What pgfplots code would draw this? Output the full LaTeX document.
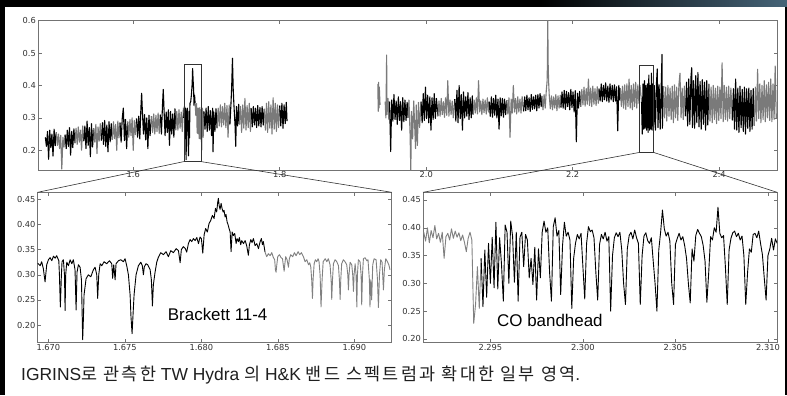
\documentclass[border=0pt]{standalone}
\usepackage{pgfplots}
\pgfplotsset{compat=1.18}
\usepackage{fontspec}
\setmainfont{Liberation Sans}
\newfontfamily\dv{DejaVu Sans}
\newfontfamily\kr{Noto Sans CJK KR}[LetterSpace=13]
\pgfplotsset{
 base/.style={
  scale only axis, anchor=south west, no markers,
  axis line style={draw=black!55, line width=0.6bp},
  tick style={draw=black!55, line width=0.5bp},
  major tick length=3.5bp,
  tick pos=both, tick align=inside,
  scaled ticks=false, clip=true,
  /pgf/number format/assume math mode=true,
  tick label style={font=\dv\fontsize{8.3}{9}\selectfont, text=black!80},
  xticklabel style={inner sep=1.5bp},
  yticklabel style={inner sep=2bp},
 },
 tb/.style={black, line width=1.1bp, line join=round},
 tg/.style={black!52, line width=1.1bp, line join=round},
 bb/.style={black, line width=0.9bp, line join=round},
 bg/.style={black!50, line width=0.9bp, line join=round},
}
\begin{document}
\begin{tikzpicture}[x=1bp,y=1bp]
\useasboundingbox (0,0) rectangle (787,395);
\fill[black] (0,0) rectangle (787,395);
\shade[left color=black, right color={rgb,255:red,70;green,100;blue,120}] (540,388) rectangle (787,395);
\fill[white] (5,0) rectangle (785,388);

% ================= TOP PANEL =================
\begin{axis}[base, name=top, at={(38bp,225bp)}, width=739bp, height=149.3bp,
  xmin=1.47, xmax=2.479, ymin=0.139, ymax=0.6,
  xtick={1.6,1.8,2.0,2.2,2.4}, ytick={0.2,0.3,0.4,0.5,0.6},
  xticklabel style={/pgf/number format/.cd,fixed,fixed zerofill,precision=1},
  yticklabel style={/pgf/number format/.cd,fixed,fixed zerofill,precision=1}]
% H band
\addplot[tb] coordinates {(1.4800,0.240)(1.4815,0.212)(1.4830,0.258)(1.4845,0.172)(1.4860,0.262)(1.4875,0.208)(1.4890,0.250)(1.4905,0.182)(1.4920,0.265)(1.4935,0.214)(1.4950,0.255)};
\addplot[tg] coordinates {(1.4950,0.255)(1.4965,0.215)(1.4980,0.250)(1.4995,0.205)(1.5010,0.246)(1.5025,0.142)(1.5040,0.240)(1.5055,0.210)(1.5070,0.248)};
\addplot[tb] coordinates {(1.5070,0.248)(1.5085,0.205)(1.5100,0.262)(1.5115,0.212)(1.5130,0.270)(1.5145,0.185)(1.5160,0.258)(1.5175,0.208)(1.5190,0.266)(1.5205,0.222)};
\addplot[tg] coordinates {(1.5205,0.222)(1.5220,0.268)(1.5235,0.218)(1.5250,0.272)(1.5265,0.225)(1.5280,0.262)(1.5295,0.200)(1.5310,0.275)(1.5325,0.228)};
\addplot[tb] coordinates {(1.5325,0.228)(1.5340,0.275)(1.5355,0.205)(1.5370,0.290)(1.5385,0.215)(1.5400,0.270)(1.5415,0.180)(1.5430,0.282)(1.5445,0.210)(1.5460,0.268)};
\addplot[tg] coordinates {(1.5460,0.268)(1.5475,0.225)(1.5490,0.280)(1.5505,0.190)(1.5520,0.272)(1.5535,0.228)(1.5550,0.282)(1.5565,0.230)};
\addplot[tb] coordinates {(1.5565,0.230)(1.5580,0.285)(1.5595,0.218)(1.5610,0.292)(1.5625,0.212)(1.5640,0.278)(1.5655,0.195)(1.5670,0.288)(1.5685,0.226)(1.5700,0.282)(1.5715,0.232)};
\addplot[tg] coordinates {(1.5715,0.232)(1.5730,0.288)(1.5745,0.236)(1.5760,0.280)(1.5775,0.200)(1.5790,0.290)(1.5805,0.238)(1.5820,0.285)};
\addplot[tb] coordinates {(1.5820,0.285)(1.5835,0.225)(1.5850,0.298)(1.5865,0.330)(1.5880,0.230)(1.5895,0.295)(1.5910,0.205)(1.5925,0.288)};
\addplot[tg] coordinates {(1.5925,0.288)(1.5940,0.240)(1.5955,0.295)(1.5970,0.245)(1.5985,0.300)(1.6000,0.200)(1.6015,0.292)(1.6030,0.248)(1.6045,0.298)};
\addplot[tb] coordinates {(1.6045,0.298)(1.6060,0.240)(1.6075,0.305)(1.6090,0.235)(1.6105,0.330)(1.6115,0.376)(1.6125,0.320)(1.6140,0.250)(1.6155,0.310)(1.6170,0.232)(1.6185,0.300)(1.6200,0.205)(1.6215,0.308)(1.6230,0.245)(1.6250,0.305)};
\addplot[tg] coordinates {(1.6250,0.305)(1.6265,0.255)(1.6280,0.312)(1.6295,0.250)(1.6310,0.308)(1.6325,0.258)(1.6340,0.315)(1.6355,0.252)(1.6370,0.310)};
\addplot[tb] coordinates {(1.6370,0.310)(1.6385,0.250)(1.6400,0.340)(1.6410,0.388)(1.6420,0.330)(1.6435,0.245)(1.6450,0.318)(1.6465,0.255)(1.6480,0.325)(1.6495,0.215)(1.6510,0.320)(1.6525,0.250)(1.6540,0.312)(1.6555,0.240)(1.6570,0.328)(1.6580,0.262)};
\addplot[tg] coordinates {(1.6580,0.262)(1.6595,0.320)(1.6610,0.262)(1.6625,0.325)(1.6640,0.268)(1.6655,0.318)(1.6670,0.258)(1.6685,0.330)(1.6690,0.300)};
\addplot[tb] coordinates {(1.6690,0.300)(1.6700,0.335)(1.6708,0.236)(1.6715,0.330)(1.6722,0.171)(1.6730,0.315)(1.6740,0.330)(1.6755,0.183)(1.6765,0.320)(1.6768,0.238)(1.6775,0.345)(1.6785,0.350)(1.6795,0.372)(1.6805,0.405)(1.6811,0.452)(1.6817,0.420)(1.6825,0.385)(1.6830,0.339)(1.6838,0.370)(1.6845,0.345)};
\addplot[tg] coordinates {(1.6845,0.345)(1.6855,0.307)(1.6865,0.344)(1.6873,0.253)(1.6880,0.330)(1.6885,0.251)(1.6895,0.330)(1.6902,0.236)(1.6910,0.332)(1.6916,0.235)(1.6925,0.325)(1.6935,0.200)(1.6945,0.330)(1.6955,0.240)(1.6965,0.320)};
\addplot[tb] coordinates {(1.6965,0.320)(1.6980,0.265)(1.6995,0.330)(1.7010,0.258)(1.7025,0.335)(1.7040,0.262)(1.7055,0.322)(1.7070,0.245)(1.7085,0.330)(1.7090,0.195)(1.7100,0.318)(1.7115,0.258)(1.7130,0.328)(1.7145,0.268)};
\addplot[tg] coordinates {(1.7145,0.268)(1.7160,0.330)(1.7175,0.275)(1.7190,0.340)(1.7205,0.272)(1.7220,0.335)(1.7235,0.278)(1.7250,0.345)(1.7265,0.270)(1.7280,0.338)(1.7295,0.240)(1.7310,0.340)(1.7320,0.280)};
\addplot[tb] coordinates {(1.7320,0.280)(1.7335,0.345)(1.7345,0.400)(1.7355,0.484)(1.7365,0.390)(1.7375,0.340)(1.7390,0.278)(1.7400,0.212)(1.7410,0.335)(1.7425,0.275)(1.7440,0.342)(1.7450,0.280)};
\addplot[tg] coordinates {(1.7450,0.280)(1.7465,0.335)(1.7480,0.255)(1.7495,0.340)(1.7510,0.268)(1.7525,0.360)(1.7540,0.262)(1.7555,0.338)(1.7570,0.270)(1.7585,0.345)(1.7600,0.258)(1.7610,0.330)};
\addplot[tb] coordinates {(1.7610,0.330)(1.7625,0.272)(1.7640,0.335)(1.7655,0.278)(1.7670,0.330)(1.7685,0.270)(1.7700,0.338)(1.7715,0.275)(1.7730,0.332)(1.7745,0.272)(1.7760,0.335)(1.7775,0.278)(1.7790,0.328)};
\addplot[tg] coordinates {(1.7790,0.328)(1.7805,0.262)(1.7820,0.345)(1.7835,0.255)(1.7850,0.350)(1.7865,0.268)(1.7880,0.340)(1.7895,0.250)(1.7910,0.362)(1.7925,0.265)(1.7940,0.345)(1.7955,0.258)(1.7970,0.340)(1.7985,0.270)(1.8000,0.338)};
\addplot[tb] coordinates {(1.8000,0.338)(1.8015,0.275)(1.8030,0.345)(1.8045,0.268)(1.8060,0.340)(1.8075,0.282)(1.8090,0.348)(1.8100,0.290)};
% K band
\addplot[tg] coordinates {(1.9340,0.405)(1.9345,0.320)(1.9350,0.410)(1.9355,0.330)(1.9360,0.395)(1.9370,0.340)};
\addplot[tg] coordinates {(1.9440,0.350)(1.9450,0.300)(1.9460,0.494)(1.9465,0.310)(1.9480,0.360)(1.9490,0.295)(1.9500,0.350)};
\addplot[tb] coordinates {(1.9500,0.350)(1.9515,0.196)(1.9530,0.355)(1.9545,0.290)(1.9560,0.372)(1.9575,0.295)(1.9590,0.352)(1.9605,0.280)(1.9620,0.365)(1.9635,0.292)(1.9650,0.350)(1.9665,0.262)(1.9680,0.362)(1.9695,0.288)(1.9710,0.355)(1.9725,0.292)(1.9740,0.348)(1.9750,0.300)};
\addplot[tg] coordinates {(1.9750,0.300)(1.9765,0.355)(1.9780,0.250)(1.9790,0.138)(1.9800,0.320)(1.9815,0.235)(1.9830,0.352)(1.9845,0.262)(1.9855,0.205)(1.9865,0.340)(1.9880,0.215)(1.9895,0.348)(1.9910,0.270)(1.9930,0.350)};
\addplot[tb] coordinates {(1.9930,0.350)(1.9945,0.285)(1.9960,0.375)(1.9975,0.292)(1.9990,0.395)(2.0005,0.298)(2.0020,0.370)(2.0035,0.285)(2.0050,0.365)(2.0065,0.262)(2.0080,0.362)(2.0095,0.295)(2.0110,0.375)(2.0125,0.298)(2.0140,0.360)(2.0160,0.305)};
\addplot[tg] coordinates {(2.0160,0.305)(2.0175,0.352)(2.0190,0.305)(2.0205,0.360)(2.0220,0.310)(2.0235,0.350)(2.0250,0.302)(2.0265,0.362)(2.0280,0.308)(2.0295,0.415)(2.0310,0.305)(2.0325,0.355)(2.0340,0.310)(2.0355,0.352)(2.0370,0.300)(2.0390,0.358)};
\addplot[tb] coordinates {(2.0390,0.358)(2.0405,0.290)(2.0420,0.385)(2.0435,0.285)(2.0450,0.400)(2.0465,0.298)(2.0480,0.372)(2.0495,0.262)(2.0510,0.380)(2.0525,0.300)(2.0540,0.365)(2.0555,0.305)(2.0570,0.378)(2.0585,0.295)(2.0600,0.362)(2.0615,0.300)(2.0630,0.368)(2.0640,0.310)};
\addplot[tg] coordinates {(2.0640,0.310)(2.0655,0.355)(2.0670,0.315)(2.0685,0.362)(2.0700,0.312)(2.0715,0.415)(2.0730,0.318)(2.0745,0.352)(2.0760,0.310)(2.0775,0.358)(2.0790,0.316)(2.0805,0.355)(2.0820,0.312)(2.0835,0.362)(2.0850,0.318)(2.0860,0.350)};
\addplot[tb] coordinates {(2.0860,0.350)(2.0875,0.305)(2.0890,0.365)(2.0905,0.302)(2.0920,0.360)(2.0935,0.308)(2.0950,0.370)(2.0965,0.300)(2.0980,0.358)(2.0995,0.265)(2.1010,0.362)(2.1025,0.306)(2.1040,0.360)(2.1055,0.302)(2.1070,0.358)(2.1085,0.310)(2.1100,0.355)};
\addplot[tg] coordinates {(2.1100,0.355)(2.1115,0.312)(2.1130,0.362)(2.1145,0.240)(2.1160,0.358)(2.1175,0.315)(2.1190,0.400)(2.1205,0.318)(2.1220,0.360)(2.1235,0.312)(2.1250,0.365)(2.1265,0.318)(2.1280,0.358)(2.1295,0.315)(2.1310,0.366)(2.1330,0.320)};
\addplot[tb] coordinates {(2.1330,0.320)(2.1345,0.365)(2.1360,0.322)(2.1375,0.370)(2.1390,0.325)(2.1405,0.362)(2.1420,0.320)(2.1435,0.372)(2.1450,0.326)(2.1465,0.365)(2.1480,0.328)(2.1495,0.370)(2.1510,0.322)(2.1525,0.372)(2.1540,0.330)(2.1555,0.375)(2.1570,0.335)(2.1580,0.368)};
\addplot[tg] coordinates {(2.1580,0.368)(2.1595,0.325)(2.1610,0.372)(2.1625,0.330)(2.1640,0.385)(2.1650,0.410)(2.1655,0.460)(2.1660,0.610)(2.1665,0.470)(2.1672,0.410)(2.1680,0.370)(2.1695,0.328)(2.1710,0.368)(2.1725,0.325)(2.1740,0.365)(2.1755,0.330)(2.1770,0.372)(2.1785,0.322)(2.1800,0.368)(2.1815,0.330)(2.1830,0.370)(2.1840,0.332)};
\addplot[tb] coordinates {(2.1840,0.332)(2.1855,0.380)(2.1870,0.330)(2.1885,0.385)(2.1900,0.326)(2.1915,0.382)(2.1930,0.335)(2.1945,0.378)(2.1960,0.325)(2.1975,0.388)(2.1990,0.332)(2.2005,0.380)(2.2020,0.318)(2.2035,0.384)(2.2050,0.226)(2.2065,0.376)(2.2080,0.330)(2.2095,0.382)(2.2110,0.335)};
\addplot[tg] coordinates {(2.2110,0.335)(2.2125,0.388)(2.2140,0.340)(2.2155,0.395)(2.2170,0.336)(2.2185,0.390)(2.2200,0.342)(2.2215,0.420)(2.2230,0.338)(2.2245,0.392)(2.2260,0.335)(2.2275,0.398)(2.2290,0.342)(2.2305,0.390)(2.2320,0.338)(2.2335,0.396)(2.2350,0.345)(2.2360,0.390)};
\addplot[tb] coordinates {(2.2360,0.390)(2.2375,0.352)(2.2390,0.405)(2.2405,0.350)(2.2420,0.400)(2.2435,0.356)(2.2450,0.408)(2.2465,0.352)(2.2480,0.398)(2.2495,0.348)(2.2510,0.405)(2.2525,0.355)(2.2540,0.400)(2.2555,0.350)(2.2570,0.402)(2.2585,0.352)(2.2600,0.396)(2.2615,0.260)(2.2630,0.400)(2.2645,0.355)(2.2650,0.392)};
\addplot[tg] coordinates {(2.2650,0.392)(2.2665,0.335)(2.2680,0.398)(2.2695,0.330)(2.2710,0.402)(2.2725,0.326)(2.2740,0.405)(2.2755,0.335)(2.2770,0.420)(2.2785,0.330)(2.2800,0.400)(2.2815,0.325)(2.2830,0.405)(2.2845,0.335)(2.2860,0.410)(2.2875,0.330)(2.2890,0.402)(2.2905,0.345)(2.2920,0.400)(2.2940,0.350)};
\addplot[tb] coordinates {(2.2940,0.350)(2.2950,0.250)(2.2960,0.405)(2.2970,0.265)(2.2980,0.415)(2.2990,0.268)(2.3000,0.400)(2.3010,0.262)(2.3020,0.405)(2.3030,0.255)(2.3040,0.432)(2.3050,0.262)(2.3060,0.400)(2.3070,0.265)(2.3075,0.438)(2.3085,0.262)(2.3095,0.405)(2.3105,0.270)(2.3115,0.400)(2.3130,0.262)(2.3145,0.410)(2.3155,0.451)(2.3165,0.270)(2.3180,0.402)(2.3195,0.265)(2.3210,0.408)(2.3220,0.496)(2.3225,0.268)(2.3240,0.398)};
\addplot[tg] coordinates {(2.3240,0.398)(2.3255,0.300)(2.3270,0.395)(2.3285,0.290)(2.3300,0.400)(2.3315,0.305)(2.3330,0.392)(2.3345,0.295)(2.3360,0.398)(2.3375,0.285)(2.3390,0.402)(2.3405,0.300)(2.3420,0.395)(2.3435,0.292)(2.3450,0.400)(2.3465,0.438)(2.3480,0.300)(2.3495,0.392)(2.3510,0.295)(2.3525,0.398)(2.3540,0.305)};
\addplot[tb] coordinates {(2.3540,0.305)(2.3555,0.410)(2.3570,0.275)(2.3585,0.420)(2.3600,0.280)(2.3615,0.425)(2.3625,0.455)(2.3635,0.270)(2.3650,0.415)(2.3665,0.268)(2.3680,0.430)(2.3695,0.285)(2.3710,0.440)(2.3725,0.272)(2.3740,0.412)(2.3755,0.265)(2.3770,0.418)(2.3785,0.280)(2.3800,0.410)(2.3815,0.262)(2.3830,0.415)(2.3845,0.278)(2.3860,0.405)};
\addplot[tg] coordinates {(2.3860,0.405)(2.3875,0.290)(2.3890,0.395)(2.3905,0.285)(2.3920,0.400)(2.3935,0.295)(2.3950,0.392)(2.3965,0.282)(2.3980,0.398)(2.3995,0.292)(2.4010,0.395)(2.4025,0.298)(2.4040,0.470)(2.4055,0.288)(2.4070,0.400)(2.4085,0.295)(2.4100,0.395)(2.4115,0.290)(2.4130,0.398)(2.4145,0.298)(2.4160,0.392)(2.4180,0.292)};
\addplot[tb] coordinates {(2.4180,0.292)(2.4195,0.390)(2.4210,0.265)(2.4225,0.420)(2.4240,0.262)(2.4255,0.392)(2.4270,0.255)(2.4285,0.398)(2.4300,0.270)(2.4315,0.388)(2.4330,0.258)(2.4345,0.395)(2.4360,0.250)(2.4375,0.390)(2.4390,0.268)(2.4405,0.392)(2.4420,0.258)(2.4435,0.385)(2.4450,0.265)(2.4465,0.390)(2.4480,0.275)};
\addplot[tg] coordinates {(2.4480,0.275)(2.4495,0.395)(2.4510,0.290)(2.4525,0.450)(2.4540,0.298)(2.4555,0.405)(2.4570,0.285)(2.4585,0.400)(2.4600,0.295)(2.4615,0.415)(2.4630,0.288)(2.4645,0.402)(2.4660,0.300)(2.4675,0.410)(2.4690,0.292)(2.4705,0.420)(2.4720,0.288)(2.4735,0.405)(2.4750,0.295)(2.4765,0.460)(2.4780,0.300)};
\draw[black!80, line width=0.6bp] (axis cs:1.6693,0.165) rectangle (axis cs:1.69244,0.464);
\draw[black!80, line width=0.6bp] (axis cs:2.29136,0.1933) rectangle (axis cs:2.31049,0.4638);
\coordinate (A1) at (axis cs:1.6693,0.165);
\coordinate (A2) at (axis cs:1.69244,0.165);
\coordinate (B1) at (axis cs:2.29136,0.1933);
\coordinate (B2) at (axis cs:2.31049,0.1933);
\end{axis}

% ================= BOTTOM LEFT =================
\begin{axis}[base, name=bl, at={(37.7bp,52.3bp)}, width=354bp, height=150.4bp,
  xmin=1.6693, xmax=1.69244, ymin=0.165, ymax=0.464,
  xtick={1.670,1.675,1.680,1.685,1.690}, ytick={0.20,0.25,0.30,0.35,0.40,0.45},
  xticklabel style={/pgf/number format/.cd,fixed,fixed zerofill,precision=3},
  yticklabel style={/pgf/number format/.cd,fixed,fixed zerofill,precision=2}]
\addplot[bb] coordinates {(1.66930,0.323)(1.66946,0.318)(1.66956,0.326)(1.66967,0.312)(1.66978,0.286)(1.66989,0.320)(1.67000,0.330)(1.67011,0.334)(1.67022,0.328)(1.67033,0.337)(1.67044,0.333)(1.67054,0.338)(1.67068,0.328)(1.67072,0.300)(1.67078,0.236)(1.67085,0.300)(1.67089,0.326)(1.67098,0.330)(1.67105,0.300)(1.67109,0.229)(1.67113,0.300)(1.67120,0.325)(1.67131,0.318)(1.67142,0.330)(1.67153,0.322)(1.67163,0.330)(1.67174,0.310)(1.67181,0.230)(1.67187,0.305)(1.67196,0.320)(1.67207,0.315)(1.67216,0.290)(1.67220,0.230)(1.67224,0.171)(1.67229,0.215)(1.67233,0.260)(1.67246,0.292)(1.67261,0.300)(1.67277,0.296)(1.67294,0.310)(1.67305,0.315)(1.67316,0.300)(1.67322,0.253)(1.67329,0.300)(1.67338,0.322)(1.67349,0.318)(1.67364,0.326)(1.67381,0.322)(1.67399,0.328)(1.67414,0.322)(1.67420,0.293)(1.67427,0.320)(1.67436,0.290)(1.67442,0.322)(1.67458,0.328)(1.67473,0.330)(1.67490,0.326)(1.67501,0.332)(1.67512,0.318)(1.67523,0.300)(1.67534,0.260)(1.67540,0.215)(1.67547,0.183)(1.67553,0.220)(1.67560,0.260)(1.67573,0.300)(1.67588,0.318)(1.67604,0.325)(1.67614,0.318)(1.67621,0.300)(1.67627,0.316)(1.67638,0.322)(1.67649,0.320)(1.67665,0.310)(1.67673,0.290)(1.67680,0.238)(1.67686,0.280)(1.67697,0.305)(1.67708,0.325)(1.67719,0.335)(1.67734,0.344)(1.67752,0.340)(1.67769,0.346)(1.67784,0.336)(1.67800,0.348)(1.67817,0.344)(1.67835,0.352)(1.67850,0.348)(1.67861,0.324)(1.67869,0.350)(1.67882,0.356)(1.67895,0.352)(1.67904,0.345)(1.67915,0.362)(1.67926,0.370)(1.67937,0.366)(1.67948,0.372)(1.67959,0.368)(1.67970,0.374)(1.67981,0.362)(1.67991,0.375)(1.68000,0.372)(1.68009,0.343)(1.68018,0.380)(1.68028,0.392)(1.68039,0.385)(1.68050,0.402)(1.68061,0.408)(1.68072,0.418)(1.68083,0.412)(1.68092,0.432)(1.68100,0.425)(1.68107,0.445)(1.68111,0.452)(1.68116,0.438)(1.68122,0.430)(1.68129,0.442)(1.68135,0.432)(1.68142,0.425)(1.68148,0.428)(1.68155,0.415)(1.68161,0.420)(1.68168,0.405)(1.68174,0.400)(1.68181,0.392)(1.68188,0.385)(1.68194,0.346)(1.68201,0.385)(1.68209,0.378)(1.68218,0.382)(1.68227,0.362)(1.68233,0.372)(1.68242,0.366)(1.68248,0.374)(1.68257,0.360)(1.68264,0.368)(1.68275,0.362)(1.68286,0.368)(1.68296,0.358)(1.68307,0.339)(1.68314,0.360)(1.68323,0.370)(1.68331,0.364)(1.68340,0.372)(1.68351,0.358)(1.68362,0.362)(1.68373,0.352)(1.68384,0.366)(1.68392,0.372)(1.68399,0.360)(1.68405,0.366)(1.68416,0.345)};
\addplot[bg] coordinates {(1.68416,0.345)(1.68427,0.336)(1.68438,0.342)(1.68449,0.338)(1.68460,0.344)(1.68471,0.334)(1.68479,0.330)(1.68484,0.310)(1.68488,0.305)(1.68493,0.320)(1.68499,0.336)(1.68510,0.340)(1.68521,0.334)(1.68530,0.332)(1.68536,0.318)(1.68541,0.307)(1.68545,0.320)(1.68551,0.336)(1.68560,0.330)(1.68569,0.315)(1.68575,0.332)(1.68584,0.340)(1.68597,0.336)(1.68608,0.344)(1.68619,0.338)(1.68632,0.346)(1.68643,0.340)(1.68654,0.344)(1.68667,0.336)(1.68678,0.326)(1.68689,0.330)(1.68700,0.320)(1.68708,0.324)(1.68715,0.316)(1.68721,0.290)(1.68726,0.253)(1.68730,0.290)(1.68737,0.322)(1.68745,0.330)(1.68754,0.326)(1.68763,0.332)(1.68769,0.326)(1.68776,0.300)(1.68782,0.236)(1.68789,0.290)(1.68796,0.326)(1.68809,0.332)(1.68820,0.326)(1.68830,0.332)(1.68841,0.320)(1.68848,0.290)(1.68852,0.251)(1.68857,0.290)(1.68863,0.322)(1.68874,0.330)(1.68885,0.326)(1.68896,0.318)(1.68902,0.290)(1.68907,0.251)(1.68911,0.290)(1.68917,0.322)(1.68928,0.330)(1.68939,0.326)(1.68950,0.320)(1.68957,0.300)(1.68961,0.270)(1.68965,0.300)(1.68972,0.325)(1.68983,0.320)(1.68989,0.300)(1.68994,0.267)(1.68998,0.300)(1.69005,0.322)(1.69011,0.300)(1.69016,0.236)(1.69020,0.300)(1.69026,0.330)(1.69037,0.326)(1.69044,0.300)(1.69048,0.240)(1.69053,0.300)(1.69059,0.332)(1.69070,0.334)(1.69081,0.328)(1.69089,0.330)(1.69098,0.290)(1.69102,0.236)(1.69107,0.290)(1.69113,0.250)(1.69120,0.320)(1.69129,0.332)(1.69142,0.330)(1.69151,0.290)(1.69157,0.235)(1.69164,0.300)(1.69172,0.330)(1.69181,0.325)(1.69190,0.270)(1.69196,0.310)(1.69205,0.332)(1.69216,0.326)(1.69225,0.320)(1.69233,0.310)};
\node[anchor=base west, inner sep=0, font=\fontsize{17}{20}\selectfont] at (axis cs:1.6778,0.210) {Brackett 11-4};
\end{axis}

% ================= BOTTOM RIGHT =================
\begin{axis}[base, name=br, at={(423bp,52.3bp)}, width=354bp, height=150.4bp,
  xmin=2.29136, xmax=2.31049, ymin=0.1933, ymax=0.4638,
  xtick={2.295,2.300,2.305,2.310}, ytick={0.20,0.25,0.30,0.35,0.40,0.45},
  xticklabel style={/pgf/number format/.cd,fixed,fixed zerofill,precision=3},
  yticklabel style={/pgf/number format/.cd,fixed,fixed zerofill,precision=2}]
\addplot[bg] coordinates {(2.2914,0.392)(2.2915,0.376)(2.2916,0.400)(2.2917,0.373)(2.2918,0.395)(2.2919,0.382)(2.2920,0.404)(2.2921,0.380)(2.2922,0.390)(2.2923,0.374)(2.2924,0.392)(2.2925,0.345)(2.2926,0.384)(2.2927,0.390)(2.2928,0.378)(2.2929,0.398)(2.2930,0.381)(2.2931,0.394)(2.2932,0.383)(2.2933,0.391)(2.2934,0.377)(2.2935,0.387)(2.2936,0.374)(2.2937,0.357)(2.2938,0.381)(2.2939,0.392)(2.2940,0.378)(2.2941,0.228)(2.2942,0.262)(2.2943,0.330)(2.2944,0.255)(2.2945,0.345)};
\addplot[bb] coordinates {(2.2945,0.345)(2.2946,0.258)(2.2947,0.360)(2.2948,0.275)(2.2949,0.372)(2.2950,0.300)(2.2951,0.383)(2.2952,0.292)(2.2953,0.410)(2.2954,0.290)(2.2955,0.382)(2.2956,0.335)(2.2957,0.268)(2.2958,0.405)(2.2959,0.392)(2.2960,0.300)(2.2961,0.412)(2.2962,0.385)(2.2963,0.302)(2.2964,0.392)(2.2965,0.268)(2.2966,0.383)(2.2967,0.392)(2.2968,0.330)(2.2969,0.388)(2.2970,0.378)(2.2971,0.310)(2.2972,0.345)(2.2973,0.298)(2.2974,0.365)(2.2975,0.270)(2.2976,0.362)(2.2977,0.310)(2.2978,0.392)(2.2979,0.412)(2.2980,0.392)(2.2981,0.400)(2.2982,0.320)(2.2983,0.268)(2.2984,0.402)(2.2985,0.418)(2.2986,0.385)(2.2987,0.395)(2.2988,0.280)(2.2989,0.368)(2.2990,0.410)(2.2991,0.385)(2.2992,0.392)(2.2993,0.378)(2.2994,0.255)(2.2995,0.345)(2.2996,0.372)(2.2997,0.388)(2.2998,0.380)(2.2999,0.390)(2.3000,0.330)(2.3001,0.272)(2.3002,0.372)(2.3003,0.402)(2.3004,0.393)(2.3005,0.396)(2.3006,0.382)(2.3007,0.320)(2.3008,0.270)(2.3009,0.370)(2.3010,0.388)(2.3011,0.380)(2.3012,0.392)(2.3013,0.376)(2.3014,0.384)(2.3015,0.250)(2.3016,0.350)(2.3017,0.382)(2.3018,0.391)(2.3019,0.384)(2.3020,0.392)(2.3021,0.360)(2.3022,0.300)(2.3023,0.262)(2.3024,0.362)(2.3025,0.386)(2.3026,0.392)(2.3027,0.380)(2.3028,0.396)(2.3029,0.382)(2.3030,0.372)(2.3031,0.262)(2.3032,0.350)(2.3033,0.385)(2.3034,0.391)(2.3035,0.377)(2.3036,0.372)(2.3037,0.382)(2.3038,0.340)(2.3039,0.300)(2.3040,0.250)(2.3041,0.360)(2.3042,0.392)(2.3043,0.432)(2.3044,0.398)(2.3045,0.385)(2.3046,0.392)(2.3047,0.376)(2.3048,0.300)(2.3049,0.262)(2.3050,0.370)(2.3051,0.381)(2.3052,0.390)(2.3053,0.378)(2.3054,0.384)(2.3055,0.368)(2.3056,0.345)(2.3057,0.300)(2.3058,0.265)(2.3059,0.362)(2.3060,0.340)(2.3061,0.386)(2.3062,0.397)(2.3063,0.390)(2.3064,0.384)(2.3065,0.368)(2.3066,0.340)(2.3067,0.266)(2.3068,0.320)(2.3069,0.384)(2.3070,0.378)(2.3071,0.400)(2.3072,0.392)(2.3073,0.437)(2.3074,0.390)(2.3075,0.382)(2.3076,0.386)(2.3077,0.330)(2.3078,0.262)(2.3079,0.360)(2.3080,0.381)(2.3081,0.391)(2.3082,0.394)(2.3083,0.384)(2.3084,0.390)(2.3085,0.378)(2.3086,0.385)(2.3087,0.350)(2.3088,0.262)(2.3089,0.320)(2.3090,0.362)(2.3091,0.356)(2.3092,0.388)(2.3093,0.390)(2.3094,0.382)(2.3095,0.394)(2.3096,0.372)(2.3097,0.352)(2.3098,0.310)(2.3099,0.270)(2.3100,0.350)(2.3101,0.362)(2.3102,0.381)(2.3103,0.360)(2.3104,0.380)(2.3105,0.372)};
\node[anchor=base west, inner sep=0, font=\fontsize{17}{20}\selectfont] at (axis cs:2.29536,0.2221) {CO bandhead};
\end{axis}

% inset connectors
\draw[black!80, line width=0.6bp] (A1) -- (bl.north west);
\draw[black!80, line width=0.6bp] (A2) -- (bl.north east);
\draw[black!80, line width=0.6bp] (B1) -- (br.north west);
\draw[black!80, line width=0.6bp] (B2) -- (br.north east);

% caption
\node[anchor=base west, inner sep=0, text=black!88, font=\fontsize{17.5}{20}\selectfont] at (21,15)
  {IGRINS{\kr 로 관측한} TW Hydra {\kr 의} H\&K {\kr 밴드 스펙트럼과 확대한 일부 영역}.};
\end{tikzpicture}
\end{document}
